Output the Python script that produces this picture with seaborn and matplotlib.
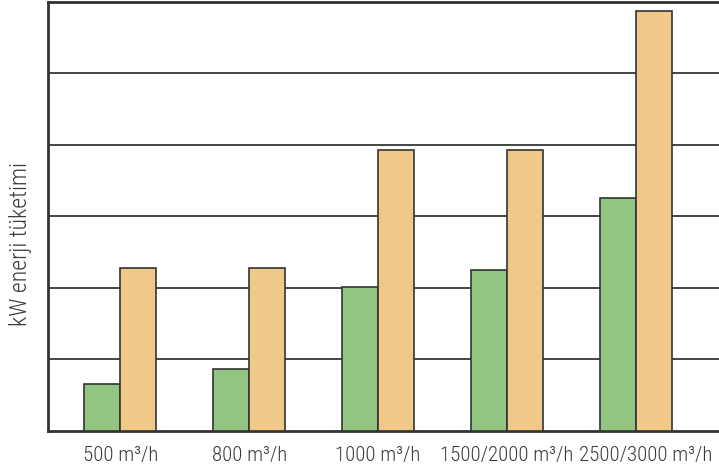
import matplotlib
matplotlib.use("Agg")
import matplotlib.pyplot as plt
import matplotlib.transforms as mtransforms
import seaborn as sns
import pandas as pd

categories = ["500 m³/h", "800 m³/h", "1000 m³/h", "1500/2000 m³/h", "2500/3000 m³/h"]
series_names = ["A", "B"]
green_values = [0.65, 0.86, 2.01, 2.25, 3.25]
orange_values = [2.27, 2.27, 3.93, 3.93, 5.87]
y_label = "kW enerji tüketimi"

df = pd.DataFrame({
    "category": categories * 2,
    "series": [series_names[0]] * len(categories) + [series_names[1]] * len(categories),
    "value": green_values + orange_values,
})

sns.set_theme(style="white")
plt.rcParams["font.family"] = ["Roboto Condensed", "DejaVu Sans"]

fig = plt.figure(figsize=(7.19, 4.70), dpi=100)
ax = fig.add_axes([48 / 719, 39.5 / 470, 1 - 48 / 719 + 0.01, (430.5 - 2) / 470])

sns.barplot(
    data=df, x="category", y="value", hue="series",
    palette=["#92C582", "#F0C888"], width=0.56,
    edgecolor="#333333", linewidth=1.2, saturation=1,
    legend=False, ax=ax, zorder=3,
)

ax.set_ylim(0, 6)
ax.set_xlim(-0.56, 4.70)
ax.set_yticks([1, 2, 3, 4, 5])
ax.tick_params(axis="y", left=False, labelleft=False)
ax.tick_params(axis="x", bottom=False, labelsize=15, labelcolor="#3a3a3a", pad=5)
for lbl in ax.get_xticklabels():
    lbl.set_fontweight(300)
# nudge the last label so it stays inside the figure
last = ax.get_xticklabels()[-1]
last.set_transform(last.get_transform() + mtransforms.ScaledTranslation(10 / 100, 0, fig.dpi_scale_trans))

ax.yaxis.grid(True, color="#444444", linewidth=1.4)
ax.set_axisbelow(True)
ax.set_xlabel("")
ax.set_ylabel(y_label, fontsize=17, color="#3a3a3a", fontweight=300)
ax.yaxis.set_label_coords(-0.024, 0.435)

for side in ["left", "top", "bottom"]:
    ax.spines[side].set_visible(True)
    ax.spines[side].set_color("#333333")
    ax.spines[side].set_linewidth(2)
ax.spines["right"].set_visible(False)

fig.savefig("out.png", dpi=100)
